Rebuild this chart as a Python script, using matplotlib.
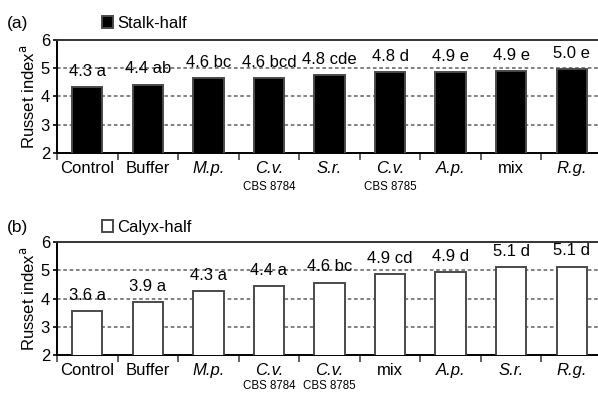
import matplotlib
matplotlib.use('Agg')
import matplotlib.pyplot as plt
from matplotlib.transforms import blended_transform_factory

plt.rcParams['font.family'] = ['Liberation Sans', 'DejaVu Sans']

# ── Panel (a): stalk-half ─────────────────────────────────────────────────
stalk_names = ['Control', 'Buffer', 'M.p.', 'C.v.', 'S.r.', 'C.v.', 'A.p.', 'mix', 'R.g.']
stalk_strain = ['', '', '', 'CBS 8784', '', 'CBS 8785', '', '', '']
stalk_values = [4.33, 4.42, 4.65, 4.65, 4.75, 4.87, 4.87, 4.9, 4.97]
stalk_labels = ['4.3 a', '4.4 ab', '4.6 bc', '4.6 bcd', '4.8 cde', '4.8 d', '4.9 e', '4.9 e', '5.0 e']

# ── Panel (b): calyx-half ─────────────────────────────────────────────────
calyx_names = ['Control', 'Buffer', 'M.p.', 'C.v.', 'C.v.', 'mix', 'A.p.', 'S.r.', 'R.g.']
calyx_strain = ['', '', '', 'CBS 8784', 'CBS 8785', '', '', '', '']
calyx_values = [3.56, 3.87, 4.27, 4.44, 4.56, 4.87, 4.93, 5.1, 5.13]
calyx_labels = ['3.6 a', '3.9 a', '4.3 a', '4.4 a', '4.6 bc', '4.9 cd', '4.9 d', '5.1 d', '5.1 d']

ITALIC = {'M.p.', 'C.v.', 'S.r.', 'A.p.', 'R.g.'}
FS = 12

fig = plt.figure(figsize=(5.98, 3.95), dpi=100)
ax_a = fig.add_axes([0.0953, 0.6127, 0.9114, 0.2860])
ax_b = fig.add_axes([0.0953, 0.1013, 0.9114, 0.2860])


def draw_panel(ax, names, strains, values, labels, face, legend_label, tag,
               strain_y, head_y):
    x = list(range(len(names)))
    bars = ax.bar(x, values, width=0.5, bottom=0, color=face,
                  edgecolor='#4a4a4a', linewidth=1.4, label=legend_label, zorder=3)
    ax.set_ylim(2, 6)
    ax.set_xlim(-0.5, len(names) - 0.5)
    ax.set_yticks([2, 3, 4, 5, 6])
    ax.tick_params(axis='y', labelsize=FS, length=3, width=1.2, pad=2)

    for yv in [3, 4, 5]:
        ax.axhline(yv, color='#777777', lw=1.3, ls=(0, (2, 1.5)), zorder=1)

    # category labels and tick marks between categories
    ax.set_xticks(x)
    ax.set_xticklabels(names, fontsize=FS)
    for lab in ax.get_xticklabels():
        if lab.get_text() in ITALIC:
            lab.set_fontstyle('italic')
    ax.tick_params(axis='x', which='major', length=0, pad=6)
    ax.set_xticks([i - 0.5 for i in range(len(names) + 1)], minor=True)
    ax.tick_params(axis='x', which='minor', length=5, width=1.2, color='#444444')

    trans = blended_transform_factory(ax.transData, ax.transAxes)
    for i, s in enumerate(strains):
        if s:
            ax.text(i, strain_y, s, fontsize=8.3, ha='center', va='top', transform=trans)

    for b, lab in zip(bars, labels):
        ax.annotate(lab, (b.get_x() + b.get_width() / 2, b.get_height()),
                    xytext=(0, 6), textcoords='offset points',
                    ha='center', va='bottom', fontsize=FS, zorder=4)

    for sp in ax.spines.values():
        sp.set_linewidth(1.4)
    ax.spines['top'].set_color('#333333')
    ax.set_ylabel('Russet index$^{\\mathrm{a}}$', fontsize=FS, labelpad=3)

    ax.legend(loc='center left', bbox_to_anchor=(0.082, head_y), frameon=False,
              fontsize=FS, handlelength=0.7, handleheight=0.7,
              handletextpad=0.25, borderpad=0, borderaxespad=0)
    ax.text(-0.092, head_y, tag, fontsize=FS + 0.5, transform=ax.transAxes,
            ha='left', va='center')


draw_panel(ax_a, stalk_names, stalk_strain, stalk_values, stalk_labels,
           'black', 'Stalk-half', '(a)', -0.245, 1.15)
draw_panel(ax_b, calyx_names, calyx_strain, calyx_values, calyx_labels,
           'white', 'Calyx-half', '(b)', -0.225, 1.13)

fig.savefig('out.png', dpi=100)
